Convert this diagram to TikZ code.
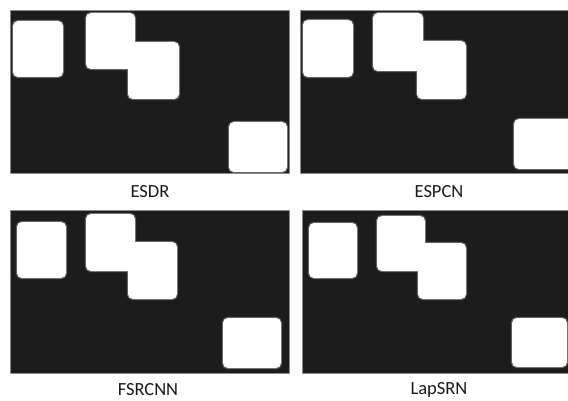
\documentclass[tikz,border=0pt]{standalone}
\usepackage{fontspec}
\setmainfont{Carlito}
\begin{document}
\begin{tikzpicture}[x=1pt, y=-1pt, line join=round, line cap=round,
  panel/.style={fill=black!89, draw=black!45, line width=.5pt},
  halo/.style={draw=black!62, line width=2.4pt, rounded corners=5pt},
  blob/.style={fill=white, rounded corners=5pt},
  caption/.style={font=\fontsize{18.5}{22}\selectfont, text=black!90, inner sep=0pt}]
\useasboundingbox (0,0) rectangle (568,401);
	% ESDR
	\begin{scope}
		\path[panel] (10,10) rectangle (289,173);
		\clip (10,10) rectangle (289,173);
		\foreach \s in {halo, blob}
			\foreach \a/\b/\c/\d in {13/21/63/77, 86/13/135/69, 128/42/179/99, 229/122/287/172}
				\path[\s] (\a,\b) rectangle (\c,\d);
	\end{scope}
	% ESPCN
	\begin{scope}
		\path[panel] (300,10) rectangle (569,173);
		\clip (300,10) rectangle (568,173);
		\foreach \s in {halo, blob}
			\foreach \a/\b/\c/\d in {303/20/353/77, 373/13/423/71, 417/41/466/99, 514/119/575/169}
				\path[\s] (\a,\b) rectangle (\c,\d);
	\end{scope}
	% FSRCNN
	\begin{scope}
		\path[panel] (10,210) rectangle (289,373);
		\clip (10,210) rectangle (289,373);
		\foreach \s in {halo, blob}
			\foreach \a/\b/\c/\d in {17/222/66/278, 86/214/135/271, 128/242/177/299, 223/318/281/368}
				\path[\s] (\a,\b) rectangle (\c,\d);
	\end{scope}
	% LapSRN
	\begin{scope}
		\path[panel] (302,210) rectangle (569,373);
		\clip (302,210) rectangle (568,373);
		\foreach \s in {halo, blob}
			\foreach \a/\b/\c/\d in {309/223/357/278, 377/216/425/271, 418/243/466/299, 512/318/567/367}
				\path[\s] (\a,\b) rectangle (\c,\d);
	\end{scope}
	% captions
	\node[caption] (esdr) at (150,192) {ESDR};
	\node[caption] (espcn) at (439,192) {ESPCN};
	\node[caption] (fsrcnn) at (148,390) {FSRCNN};
	\node[caption] (lapsrn) at (439,390) {LapSRN};
\end{tikzpicture}
\end{document}
